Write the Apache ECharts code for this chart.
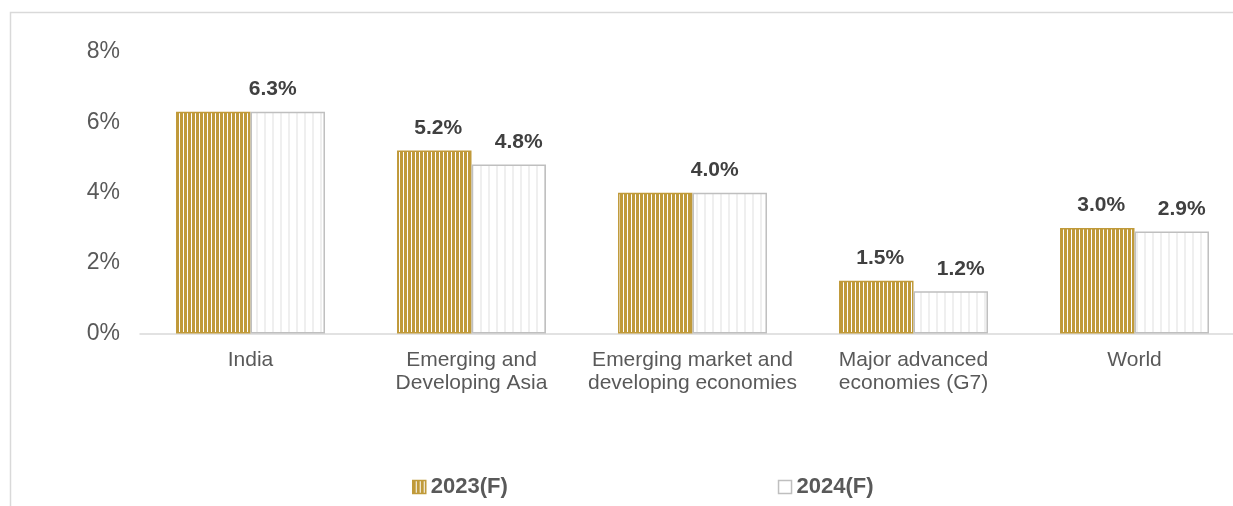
<!DOCTYPE html>
<html>
<head>
<meta charset="utf-8">
<script src="https://cdn.jsdelivr.net/npm/echarts@6/dist/echarts.min.js"></script>
<style>
html,body{margin:0;padding:0;background:#fff;}
#chart{width:1233px;height:506px;}
</style>
</head>
<body>
<div id="chart"></div>
<script>
const categories = ["India", "Emerging and\nDeveloping Asia", "Emerging market and\ndeveloping economies", "Major advanced\neconomies (G7)", "World"];
const values2023 = [6.3, 5.2, 4.0, 1.5, 3.0];
const values2024 = [6.3, 4.8, 4.0, 1.2, 2.9];
const seriesNames = ["2023(F)", "2024(F)"];
const yTicks = [0, 2, 4, 6, 8];

function stripeCanvas(w, bg, fg, fgW) {
  const c = document.createElement('canvas');
  c.width = w; c.height = 4;
  const ctx = c.getContext('2d');
  ctx.fillStyle = bg; ctx.fillRect(0, 0, w, 4);
  ctx.fillStyle = fg; ctx.fillRect(0, 0, fgW, 4);
  return c;
}
const goldPattern = { image: stripeCanvas(4, '#ffffff', '#C09A3A', 3), repeat: 'repeat' };
const greyPattern = { image: stripeCanvas(8, '#ffffff', '#EFEFEF', 2), repeat: 'repeat' };

const fontFam = '"Liberation Sans", Arial, sans-serif';
const labelBase = { show: true, position: 'top', distance: 12, fontFamily: fontFam, fontSize: 21, fontWeight: 'bold', color: '#404040', formatter: p => p.value.toFixed(1) + '%' };

const data2023 = values2023.map((v, i) => {
  const same = v === values2024[i];
  return { value: v, label: same ? { show: false } : { offset: [4, 0] } };
});
const data2024 = values2024.map((v, i) => {
  const same = v === values2023[i];
  return { value: v, label: same ? { offset: [-15, 0] } : { offset: [10, 0] } };
});

const chart = echarts.init(document.getElementById('chart'), null, { renderer: 'canvas' });
chart.setOption({
  animation: false,
  backgroundColor: '#ffffff',
  graphic: [{
    type: 'rect', left: 8, top: 10, z: -1,
    shape: { x: 0, y: 0, width: 1300, height: 600 },
    style: { fill: 'none', stroke: '#D9D9D9', lineWidth: 1.5 }
  }],
  grid: { left: 140, right: -12, top: 52, bottom: 172.5, containLabel: false, outerBoundsMode: 'none' },
  legend: {
    left: 407, top: 471, itemWidth: 13, itemHeight: 13, itemGap: 270,
    textStyle: { fontFamily: fontFam, fontSize: 22, fontWeight: 'bold', color: '#595959' },
    data: [
      { name: seriesNames[0], icon: 'rect', itemStyle: { color: goldPattern, borderColor: '#C09A3A', borderWidth: 1.5 } },
      { name: seriesNames[1], icon: 'rect', itemStyle: { color: '#ffffff', borderColor: '#BFBFBF', borderWidth: 1.5 } }
    ]
  },
  xAxis: {
    type: 'category', data: categories,
    axisLine: { lineStyle: { color: '#D9D9D9', width: 1.5 } },
    axisTick: { show: false },
    axisLabel: { interval: 0, margin: 15, fontFamily: fontFam, fontSize: 21, lineHeight: 23, color: '#595959' }
  },
  yAxis: {
    type: 'value', min: yTicks[0], max: yTicks[yTicks.length - 1], interval: 2,
    axisLine: { show: false }, axisTick: { show: false }, splitLine: { show: false },
    axisLabel: { margin: 20, fontFamily: fontFam, fontSize: 23, color: '#595959', formatter: '{value}%' }
  },
  series: [
    {
      name: seriesNames[0], type: 'bar', data: data2023, barGap: '0%', barCategoryGap: '32.6%',
      itemStyle: { color: goldPattern, borderColor: '#C09A3A', borderWidth: 1.5 },
      label: labelBase
    },
    {
      name: seriesNames[1], type: 'bar', data: data2024,
      itemStyle: { color: greyPattern, borderColor: '#BFBFBF', borderWidth: 1.5 },
      label: labelBase
    }
  ]
});
</script>
</body>
</html>
